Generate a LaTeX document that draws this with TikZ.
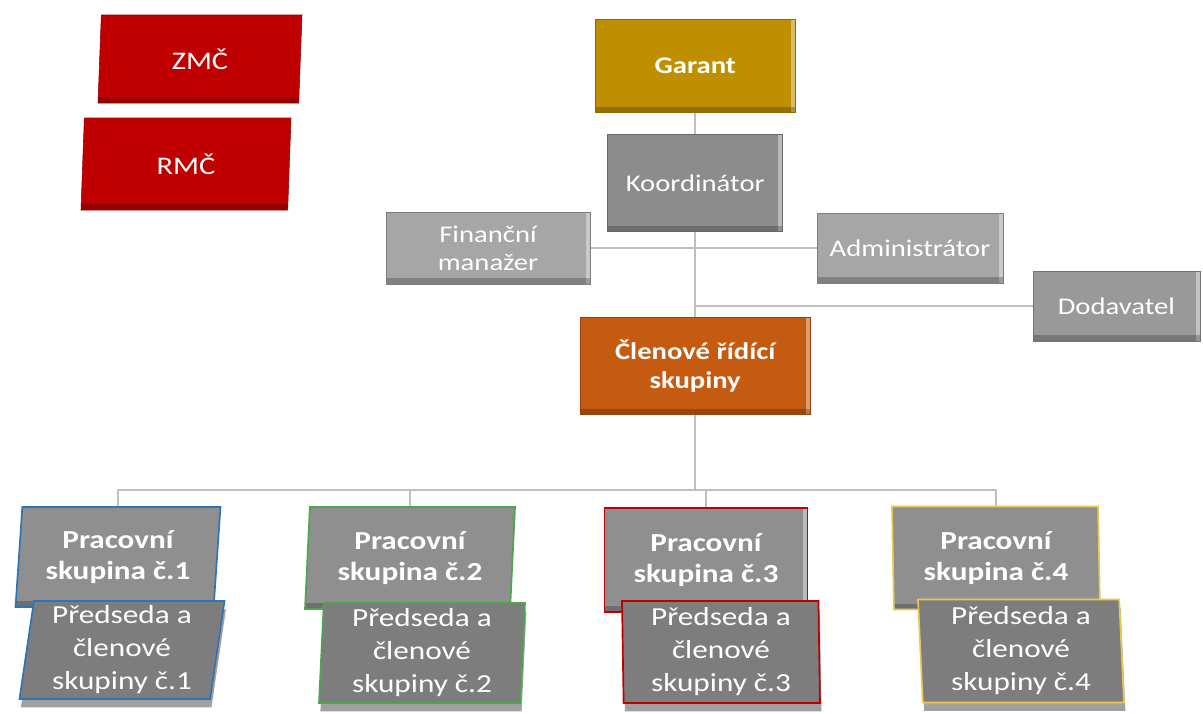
\documentclass[tikz,border=0pt]{standalone}
\usepackage{fontspec}
\setmainfont{Carlito}[FakeStretch=1.2]
\usetikzlibrary{shapes.geometric,shadows,backgrounds}

\definecolor{councilred}{RGB}{192,0,0}
\definecolor{garantgold}{RGB}{191,143,0}
\definecolor{koordgray}{RGB}{140,140,140}
\definecolor{staffgray}{RGB}{166,166,166}
\definecolor{dodgray}{RGB}{153,153,153}
\definecolor{boardorange}{RGB}{197,90,17}
\definecolor{groupgray}{RGB}{143,143,143}
\definecolor{chairgray}{RGB}{125,125,125}
\definecolor{linegray}{RGB}{191,191,191}
\definecolor{wgblue}{RGB}{46,117,182}
\definecolor{wggreen}{RGB}{76,166,76}
\definecolor{wgred}{RGB}{192,0,0}
\definecolor{wgyellow}{RGB}{232,200,80}

\begin{document}
\begin{tikzpicture}[
  box/.style={draw=#1!75!black, fill=#1, text=white, align=center, inner sep=1pt,
    font=\fontsize{17}{20}\selectfont},
  bevel/.style={path picture={
    \fill[white,opacity=.4] ([xshift=-3pt]path picture bounding box.north east) rectangle (path picture bounding box.south east);
    \fill[black,opacity=.22] (path picture bounding box.south west) rectangle ([yshift=4pt]path picture bounding box.south east);}},
  lowbevel/.style={path picture={
    \fill[black,opacity=.22] (path picture bounding box.south west) rectangle ([yshift=4pt]path picture bounding box.south east);}},
  tilt/.style 2 args={trapezium, trapezium left angle=#1, trapezium right angle=#2, trapezium stretches body},
  group/.style={box=groupgray, draw=#1, line width=1.2pt,
    font=\fontsize{18.5}{22}\selectfont\bfseries},
  chair/.style={box=chairgray, draw=#1, line width=1.2pt,
    drop shadow={opacity=.75, shadow xshift=1pt, shadow yshift=-6pt},
    font=\fontsize{18.5}{23.5}\selectfont},
  link/.style={draw=linegray, line width=1.3pt}
]
\useasboundingbox (0,0) rectangle (30.075,-17.825);

% The councils
\node[box=councilred, lowbevel, tilt={82}{98}, minimum width=5.1cm, minimum height=2.2cm,
  font=\fontsize{18}{21}\selectfont] (zmc) at (5.0,-1.475) {ZMČ};
\node[box=councilred, lowbevel, tilt={82}{98}, minimum width=5.25cm, minimum height=2.3cm,
  font=\fontsize{18}{21}\selectfont] (rmc) at (4.65,-4.1) {RMČ};

% The management
\node[box=garantgold, bevel, minimum width=5cm, minimum height=2.325cm,
  font=\fontsize{17}{20}\selectfont\bfseries] (garant) at (17.38,-1.65) {Garant};
\node[box=koordgray, bevel, minimum width=4.375cm, minimum height=2.425cm] (koord) at (17.38,-4.575) {Koordinátor};
\node[box=staffgray, bevel, minimum width=5.1cm, minimum height=1.8cm] (fin) at (12.2,-6.2) {Finanční\\manažer};
\node[box=staffgray, bevel, minimum width=4.65cm, minimum height=1.75cm] (adm) at (22.75,-6.2) {Administrátor};
\node[box=dodgray, bevel, minimum width=4.175cm, minimum height=1.75cm] (dod) at (27.91,-7.65) {Dodavatel};
\node[box=boardorange, bevel, minimum width=5.75cm, minimum height=2.425cm,
  font=\fontsize{17}{21}\selectfont\bfseries] (clen) at (17.38,-9.15) {Členové řídící\\skupiny};

% The working groups
\node[group=wgblue, lowbevel, tilt={83}{97}, minimum width=5.125cm, minimum height=2.5cm] (ps1) at (2.95,-13.925) {Pracovní\\skupina č.1};
\node[group=wggreen, lowbevel, tilt={85}{95}, minimum width=5.25cm, minimum height=2.55cm] (ps2) at (10.25,-13.95) {Pracovní\\skupina č.2};
\node[group=wgred, bevel, minimum width=5.075cm, minimum height=2.6cm] (ps3) at (17.65,-14.0) {Pracovní\\skupina č.3};
\node[group=wgyellow, lowbevel, tilt={92}{88}, minimum width=5.2cm, minimum height=2.575cm] (ps4) at (24.9,-13.95) {Pracovní\\skupina č.4};

% The chairs
\node[chair=wgblue, tilt={81}{99}, minimum width=5.125cm, minimum height=2.45cm] (ch1) at (3.05,-16.25) {Předseda a\\členové\\skupiny č.1};
\node[chair=wggreen, tilt={87}{93}, minimum width=5.15cm, minimum height=2.5cm] (ch2) at (10.55,-16.325) {Předseda a\\členové\\skupiny č.2};
\node[chair=wgred, tilt={91}{89}, minimum width=4.95cm, minimum height=2.55cm] (ch3) at (18.025,-16.3) {Předseda a\\členové\\skupiny č.3};
\node[chair=wgyellow, tilt={93}{87}, minimum width=5.15cm, minimum height=2.575cm] (ch4) at (25.525,-16.275) {Předseda a\\členové\\skupiny č.4};

% The lines
\begin{scope}[on background layer]
\draw[link] (garant) -- (koord);
\draw[link] (koord) -- (clen);
\draw[link] (fin) -- (adm);
\coordinate (tap) at (koord |- dod);
\draw[link] (tap) -- (dod);
\coordinate (bus) at (clen |- 0,-12.25);
\draw[link] (clen) -- (bus);
\draw[link] (bus) -| (ps1);
\draw[link] (bus) -| (ps2);
\draw[link] (bus) -| (ps3);
\draw[link] (bus) -| (ps4);
\end{scope}
\end{tikzpicture}
\end{document}
